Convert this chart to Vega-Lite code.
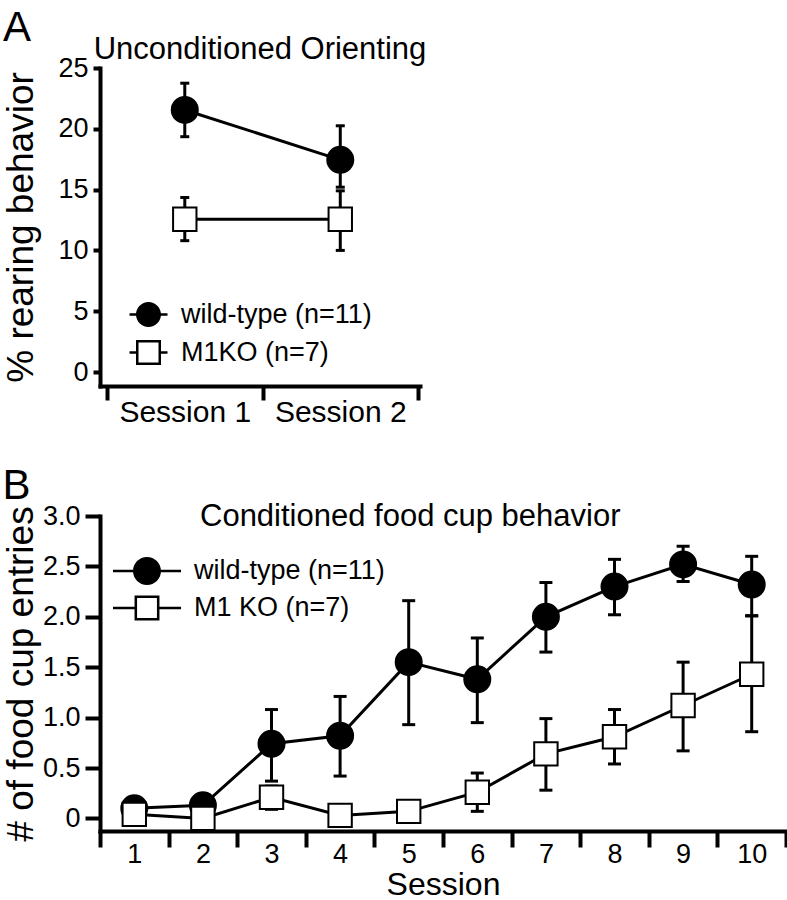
{
  "$schema": "https://vega.github.io/schema/vega-lite/v6.json",
  "background": "white",
  "padding": {"left": 2, "top": 7, "right": 0, "bottom": 0},
  "config": {
    "font": "Liberation Sans",
    "view": {"stroke": null},
    "concat": {"spacing": 38},
    "axis": {"domainColor": "black", "tickColor": "black", "labelColor": "black", "titleColor": "black", "grid": false, "domainWidth": 4, "tickWidth": 4, "titleFontWeight": "normal", "labelFont": "Liberation Sans", "titleFont": "Liberation Sans", "domainCap": "square"},
    "title": {"color": "black", "fontWeight": "normal", "font": "Liberation Sans"},
    "legend": {"labelColor": "black", "labelFont": "Liberation Sans", "padding": 0, "labelLimit": 400}
  },
  "datasets": {
    "a": [
      {"session": "Session 1", "groupA": "wild-type (n=11)", "v": 21.55, "lo": 19.35, "hi": 23.75},
      {"session": "Session 2", "groupA": "wild-type (n=11)", "v": 17.45, "lo": 15.2, "hi": 20.25},
      {"session": "Session 1", "groupA": "M1KO (n=7)", "v": 12.56, "lo": 10.8, "hi": 14.35},
      {"session": "Session 2", "groupA": "M1KO (n=7)", "v": 12.56, "lo": 10.0, "hi": 14.9}
    ],
    "b": [
      {"session": 1, "groupB": "wild-type (n=11)", "v": 0.1, "lo": 0.05, "hi": 0.15},
      {"session": 2, "groupB": "wild-type (n=11)", "v": 0.13, "lo": 0.08, "hi": 0.18},
      {"session": 3, "groupB": "wild-type (n=11)", "v": 0.74, "lo": 0.37, "hi": 1.08},
      {"session": 4, "groupB": "wild-type (n=11)", "v": 0.82, "lo": 0.42, "hi": 1.21},
      {"session": 5, "groupB": "wild-type (n=11)", "v": 1.55, "lo": 0.93, "hi": 2.16},
      {"session": 6, "groupB": "wild-type (n=11)", "v": 1.38, "lo": 0.95, "hi": 1.79},
      {"session": 7, "groupB": "wild-type (n=11)", "v": 2.0, "lo": 1.65, "hi": 2.34},
      {"session": 8, "groupB": "wild-type (n=11)", "v": 2.3, "lo": 2.02, "hi": 2.57},
      {"session": 9, "groupB": "wild-type (n=11)", "v": 2.52, "lo": 2.35, "hi": 2.7},
      {"session": 10, "groupB": "wild-type (n=11)", "v": 2.32, "lo": 2.01, "hi": 2.6},
      {"session": 1, "groupB": "M1 KO (n=7)", "v": 0.04, "lo": 0.0, "hi": 0.08},
      {"session": 2, "groupB": "M1 KO (n=7)", "v": 0.0, "lo": -0.04, "hi": 0.04},
      {"session": 3, "groupB": "M1 KO (n=7)", "v": 0.21, "lo": 0.09, "hi": 0.32},
      {"session": 4, "groupB": "M1 KO (n=7)", "v": 0.03, "lo": -0.01, "hi": 0.07},
      {"session": 5, "groupB": "M1 KO (n=7)", "v": 0.07, "lo": 0.03, "hi": 0.11},
      {"session": 6, "groupB": "M1 KO (n=7)", "v": 0.26, "lo": 0.07, "hi": 0.45},
      {"session": 7, "groupB": "M1 KO (n=7)", "v": 0.64, "lo": 0.28, "hi": 0.99},
      {"session": 8, "groupB": "M1 KO (n=7)", "v": 0.81, "lo": 0.54, "hi": 1.08},
      {"session": 9, "groupB": "M1 KO (n=7)", "v": 1.12, "lo": 0.67, "hi": 1.55},
      {"session": 10, "groupB": "M1 KO (n=7)", "v": 1.43, "lo": 0.86, "hi": 2.01}
    ]
  },
  "resolve": {"scale": {"shape": "independent", "fill": "independent"}, "legend": {"shape": "independent", "fill": "independent"}},
  "vconcat": [
    {
      "title": {"text": "A", "fontSize": 42, "anchor": "start", "frame": "bounds", "baseline": "alphabetic", "offset": -49},
      "vconcat": [
        {
          "width": 320,
          "height": 318,
          "title": {"text": "Unconditioned Orienting", "fontSize": 31, "anchor": "middle", "frame": "group", "baseline": "alphabetic", "offset": -36},
          "data": {"name": "a"},
          "encoding": {
            "x": {"field": "session", "type": "nominal", "scale": {"type": "band", "paddingInner": 0, "paddingOuter": 0.029, "align": 0.78}, "axis": {"title": null, "labelAngle": 0, "tickBand": "extent", "tickSize": 14, "labelPadding": -3, "labelFontSize": 30}}
          },
          "layer": [
            {
              "mark": {"type": "line", "color": "black", "strokeWidth": 3},
              "encoding": {
                "y": {"field": "v", "type": "quantitative", "title": "% rearing behavior", "scale": {"domain": [-1.15, 25], "nice": false, "zero": false}, "axis": {"values": [0, 5, 10, 15, 20, 25], "tickSize": 7, "labelPadding": 5, "labelFontSize": 27, "titleFontSize": 37, "titlePadding": 17}},
                "detail": {"field": "groupA"}
              }
            },
            {
              "mark": {"type": "rule", "color": "black", "strokeWidth": 3},
              "encoding": {"y": {"field": "lo", "type": "quantitative", "title": "% rearing behavior"}, "y2": {"field": "hi"}}
            },
            {
              "mark": {"type": "tick", "orient": "horizontal", "color": "black", "size": 9, "thickness": 3, "opacity": 1},
              "encoding": {"y": {"field": "lo", "type": "quantitative", "title": "% rearing behavior"}}
            },
            {
              "mark": {"type": "tick", "orient": "horizontal", "color": "black", "size": 9, "thickness": 3, "opacity": 1},
              "encoding": {"y": {"field": "hi", "type": "quantitative", "title": "% rearing behavior"}}
            },
            {
              "transform": [{"filter": "datum.groupA === 'wild-type (n=11)'"}],
              "mark": {"type": "point", "shape": "circle", "filled": true, "fill": "black", "size": 676, "stroke": "black", "strokeWidth": 2, "opacity": 1},
              "encoding": {"y": {"field": "v", "type": "quantitative", "title": "% rearing behavior"}}
            },
            {
              "transform": [{"filter": "datum.groupA === 'M1KO (n=7)'"}],
              "mark": {"type": "point", "shape": "M-0.9,-0.9H0.9V0.9H-0.9Z", "filled": true, "fill": "white", "size": 676, "stroke": "black", "strokeWidth": 2, "opacity": 1},
              "encoding": {"y": {"field": "v", "type": "quantitative", "title": "% rearing behavior"}}
            },
            {
              "transform": [{"filter": "false"}],
              "mark": {"type": "point", "filled": true, "fill": "black", "strokeWidth": 0, "opacity": 1},
              "encoding": {
                "y": {"field": "v", "type": "quantitative", "title": "% rearing behavior"},
                "shape": {"field": "groupA", "type": "nominal", "scale": {"domain": ["wild-type (n=11)", "M1KO (n=7)"], "range": ["M-1,0A1,1 0 1,1 1,0A1,1 0 1,1 -1,0Z M-1.52,-0.1H-0.95V0.1H-1.52Z M0.95,-0.1H1.52V0.1H0.95Z", "M-1,-1H1V1H-1Z M-0.8,-0.8V0.8H0.8V-0.8Z M-1.52,-0.1H-1V0.1H-1.52Z M1,-0.1H1.52V0.1H1Z"]},
                  "legend": {"title": null, "orient": "none", "legendX": 35, "legendY": 233, "direction": "vertical", "labelFontSize": 27, "symbolSize": 625, "labelOffset": 19, "rowPadding": 10, "symbolFillColor": "black", "symbolStrokeWidth": 0, "symbolOpacity": 1}}
              }
            }
          ]
        }
      ]
    },
    {
      "title": {"text": "B", "fontSize": 42, "anchor": "start", "frame": "bounds", "baseline": "alphabetic", "offset": -40},
      "vconcat": [
        {
          "width": 686,
          "height": 315,
          "title": {"text": "Conditioned food cup behavior", "fontSize": 31, "anchor": "start", "frame": "group", "dx": 100, "baseline": "alphabetic", "offset": -55},
          "data": {"name": "b"},
          "encoding": {
            "x": {"field": "session", "type": "ordinal", "scale": {"type": "band", "paddingInner": 0, "paddingOuter": 0}, "axis": {"title": "Session", "labelAngle": 0, "tickBand": "extent", "tickSize": 16, "labelPadding": -6, "labelFontSize": 27, "titleFontSize": 32, "titlePadding": 2}}
          },
          "layer": [
            {
              "mark": {"type": "line", "color": "black", "strokeWidth": 3},
              "encoding": {
                "y": {"field": "v", "type": "quantitative", "title": "# of food cup entries", "scale": {"domain": [-0.125, 3.0], "nice": false, "zero": false}, "axis": {"values": [0, 0.5, 1, 1.5, 2, 2.5, 3], "labelExpr": "datum.value === 0 ? '0' : format(datum.value, '.1f')", "tickSize": 15, "labelPadding": 5, "labelFontSize": 27, "titleFontSize": 37, "titlePadding": 2}},
                "detail": {"field": "groupB"}
              }
            },
            {
              "mark": {"type": "rule", "color": "black", "strokeWidth": 3},
              "encoding": {"y": {"field": "lo", "type": "quantitative", "title": "# of food cup entries"}, "y2": {"field": "hi"}}
            },
            {
              "mark": {"type": "tick", "orient": "horizontal", "color": "black", "size": 13, "thickness": 3, "opacity": 1},
              "encoding": {"y": {"field": "lo", "type": "quantitative", "title": "# of food cup entries"}}
            },
            {
              "mark": {"type": "tick", "orient": "horizontal", "color": "black", "size": 13, "thickness": 3, "opacity": 1},
              "encoding": {"y": {"field": "hi", "type": "quantitative", "title": "# of food cup entries"}}
            },
            {
              "transform": [{"filter": "datum.groupB === 'wild-type (n=11)'"}],
              "mark": {"type": "point", "shape": "circle", "filled": true, "fill": "black", "size": 676, "stroke": "black", "strokeWidth": 2, "opacity": 1},
              "encoding": {"y": {"field": "v", "type": "quantitative", "title": "# of food cup entries"}}
            },
            {
              "transform": [{"filter": "datum.groupB === 'M1 KO (n=7)'"}],
              "mark": {"type": "point", "shape": "M-0.9,-0.9H0.9V0.9H-0.9Z", "filled": true, "fill": "white", "size": 676, "stroke": "black", "strokeWidth": 2, "opacity": 1},
              "encoding": {"y": {"field": "v", "type": "quantitative", "title": "# of food cup entries"}}
            },
            {
              "transform": [{"filter": "false"}],
              "mark": {"type": "point", "filled": true, "fill": "black", "strokeWidth": 0, "opacity": 1},
              "encoding": {
                "y": {"field": "v", "type": "quantitative", "title": "# of food cup entries"},
                "shape": {"field": "groupB", "type": "nominal", "scale": {"domain": ["wild-type (n=11)", "M1 KO (n=7)"], "range": ["M-1,0A1,1 0 1,1 1,0A1,1 0 1,1 -1,0Z M-2.43,-0.09H-0.95V0.09H-2.43Z M0.95,-0.09H2.43V0.09H0.95Z", "M-0.89,-0.89H0.89V0.89H-0.89Z M-0.71,-0.71V0.71H0.71V-0.71Z M-2.43,-0.09H-0.89V0.09H-2.43Z M0.89,-0.09H2.43V0.09H0.89Z"]},
                  "legend": {"title": null, "orient": "none", "legendX": 33, "legendY": 41, "direction": "vertical", "labelFontSize": 27, "symbolSize": 784, "labelOffset": 33, "rowPadding": 9, "symbolFillColor": "black", "symbolStrokeWidth": 0, "symbolOpacity": 1}}
              }
            }
          ]
        }
      ]
    }
  ]
}
